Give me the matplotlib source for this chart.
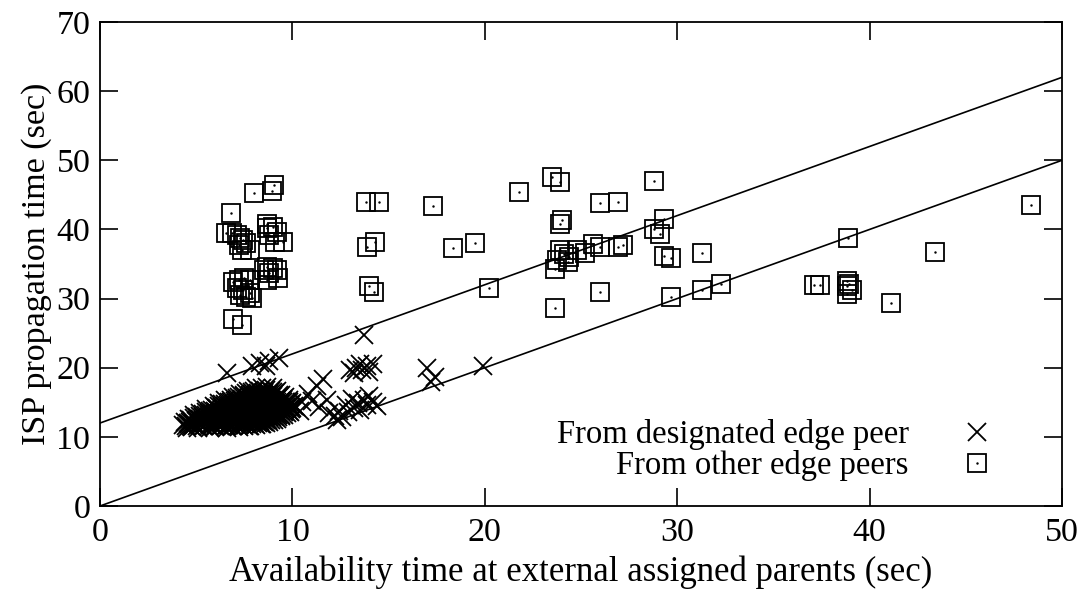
import matplotlib
matplotlib.use("Agg")
import matplotlib.pyplot as plt
from matplotlib.legend_handler import HandlerTuple

# crosses: designated edge peer -- the dense blob, row by row
blob_x = [
    4.5, 4.8, 5.1, 5.4, 5.7, 6.0, 6.3, 6.6, 6.9, 7.2, 7.5, 7.8, 8.1, 8.4,
    4.3, 4.6, 4.9, 5.2, 5.5, 5.8, 6.1, 6.4, 6.7, 7.0, 7.3, 7.6, 7.9, 8.2, 8.5, 8.8,
    4.4, 4.7, 5.0, 5.3, 5.6, 5.9, 6.2, 6.5, 6.8, 7.1, 7.4, 7.7, 8.0, 8.3, 8.6, 8.9, 9.2,
    4.6, 4.9, 5.2, 5.5, 5.8, 6.1, 6.4, 6.7, 7.0, 7.3, 7.6, 7.9, 8.2, 8.5, 8.8, 9.1, 9.4,
    4.9, 5.2, 5.5, 5.8, 6.1, 6.4, 6.7, 7.0, 7.3, 7.6, 7.9, 8.2, 8.5, 8.8, 9.1, 9.4, 9.7,
    5.2, 5.5, 5.8, 6.1, 6.4, 6.7, 7.0, 7.3, 7.6, 7.9, 8.2, 8.5, 8.8, 9.1, 9.4, 9.8,
    5.5, 5.8, 6.1, 6.4, 6.7, 7.0, 7.3, 7.6, 7.9, 8.2, 8.5, 8.8, 9.1, 9.4, 9.7, 10.0,
    5.9, 6.2, 6.5, 6.8, 7.1, 7.4, 7.7, 8.0, 8.3, 8.6, 8.9, 9.2, 9.5, 9.8, 10.1,
    6.2, 6.5, 6.8, 7.1, 7.4, 7.7, 8.0, 8.3, 8.6, 8.9, 9.2, 9.5, 9.8, 10.0,
    6.5, 6.8, 7.1, 7.4, 7.7, 8.0, 8.3, 8.6, 8.9, 9.2, 9.5, 9.8,
    6.9, 7.2, 7.5, 7.8, 8.1, 8.4, 8.7, 9.0, 9.3, 9.6,
    7.3, 7.6, 7.9, 8.2, 8.5, 8.8, 9.1, 9.4,
    7.7, 8.0, 8.3, 8.6, 8.9, 9.2,
    8.1, 8.4, 8.7, 9.0,
]
blob_y = [
    11.3, 11.4, 11.3, 11.5, 11.3, 11.4, 11.6, 11.3, 11.5, 11.4, 11.6, 11.5, 11.7, 11.8,
    11.7, 11.8, 11.7, 11.9, 11.8, 11.7, 11.9, 11.8, 11.7, 11.9, 11.8, 11.9, 11.8, 12.0, 12.1, 12.2,
    12.2, 12.1, 12.3, 12.2, 12.1, 12.3, 12.2, 12.1, 12.3, 12.2, 12.1, 12.3, 12.2, 12.3, 12.4, 12.5, 12.6,
    12.6, 12.7, 12.6, 12.5, 12.7, 12.6, 12.8, 12.6, 12.5, 12.7, 12.6, 12.8, 12.6, 12.7, 12.8, 12.9, 13.0,
    13.1, 13.0, 13.2, 13.1, 13.0, 13.2, 13.1, 13.0, 13.2, 13.1, 13.0, 13.2, 13.1, 13.2, 13.3, 13.2, 13.4,
    13.5, 13.6, 13.5, 13.4, 13.6, 13.5, 13.7, 13.5, 13.4, 13.6, 13.5, 13.7, 13.5, 13.6, 13.7, 13.8,
    14.0, 13.9, 14.1, 14.0, 13.9, 14.1, 14.0, 13.9, 14.1, 14.0, 13.9, 14.1, 14.0, 14.1, 14.2, 14.1,
    14.4, 14.5, 14.4, 14.3, 14.5, 14.4, 14.6, 14.4, 14.3, 14.5, 14.4, 14.6, 14.5, 14.6, 14.5,
    14.9, 14.8, 15.0, 14.9, 14.8, 15.0, 14.9, 14.8, 15.0, 14.9, 15.0, 15.1, 15.0, 14.9,
    15.3, 15.4, 15.3, 15.2, 15.4, 15.3, 15.5, 15.3, 15.4, 15.5, 15.4, 15.3,
    15.8, 15.7, 15.9, 15.8, 15.7, 15.9, 15.8, 15.9, 15.8, 15.7,
    16.2, 16.3, 16.2, 16.1, 16.3, 16.2, 16.3, 16.1,
    16.6, 16.7, 16.6, 16.8, 16.7, 16.6,
    17.1, 17.0, 17.2, 17.0,
]

# crosses: designated edge peer -- second, staggered pass through the blob
blob2_x = [
    4.45, 4.75, 5.05, 5.35, 5.65, 5.95, 6.25, 6.55, 6.85, 7.15, 7.45, 7.75, 8.05, 8.35, 8.65,
    4.55, 4.85, 5.15, 5.45, 5.75, 6.05, 6.35, 6.65, 6.95, 7.25, 7.55, 7.85, 8.15, 8.45, 8.75, 9.05,
    4.75, 5.05, 5.35, 5.65, 5.95, 6.25, 6.55, 6.85, 7.15, 7.45, 7.75, 8.05, 8.35, 8.65, 8.95, 9.25,
    5.05, 5.35, 5.65, 5.95, 6.25, 6.55, 6.85, 7.15, 7.45, 7.75, 8.05, 8.35, 8.65, 8.95, 9.25, 9.55,
    5.35, 5.65, 5.95, 6.25, 6.55, 6.85, 7.15, 7.45, 7.75, 8.05, 8.35, 8.65, 8.95, 9.25, 9.55, 9.85,
    5.7, 6.0, 6.3, 6.6, 6.9, 7.2, 7.5, 7.8, 8.1, 8.4, 8.7, 9.0, 9.3, 9.6, 9.9,
    6.05, 6.35, 6.65, 6.95, 7.25, 7.55, 7.85, 8.15, 8.45, 8.75, 9.05, 9.35, 9.65, 9.95,
    6.35, 6.65, 6.95, 7.25, 7.55, 7.85, 8.15, 8.45, 8.75, 9.05, 9.35, 9.65, 9.95,
    6.7, 7.0, 7.3, 7.6, 7.9, 8.2, 8.5, 8.8, 9.1, 9.4, 9.65,
    7.1, 7.4, 7.7, 8.0, 8.3, 8.6, 8.9, 9.2, 9.5,
    7.5, 7.8, 8.1, 8.4, 8.7, 9.0, 9.3,
    7.9, 8.2, 8.5, 8.8, 9.0,
]
blob2_y = [
    11.5, 11.6, 11.5, 11.6, 11.5, 11.6, 11.5, 11.6, 11.5, 11.6, 11.7, 11.6, 11.8, 11.9, 12.0,
    12.0, 11.9, 12.0, 12.1, 11.9, 12.0, 12.1, 11.9, 12.0, 12.1, 12.0, 12.1, 12.2, 12.3, 12.4, 12.4,
    12.4, 12.5, 12.4, 12.3, 12.5, 12.4, 12.5, 12.4, 12.3, 12.5, 12.4, 12.5, 12.6, 12.7, 12.8, 12.8,
    12.9, 12.8, 12.9, 13.0, 12.8, 12.9, 13.0, 12.8, 12.9, 13.0, 12.9, 13.0, 13.0, 13.1, 13.2, 13.2,
    13.3, 13.4, 13.3, 13.2, 13.4, 13.3, 13.4, 13.3, 13.2, 13.4, 13.3, 13.4, 13.4, 13.5, 13.6, 13.6,
    13.8, 13.7, 13.8, 13.9, 13.7, 13.8, 13.9, 13.7, 13.8, 13.9, 13.8, 13.9, 13.9, 14.0, 14.0,
    14.2, 14.3, 14.2, 14.1, 14.3, 14.2, 14.3, 14.2, 14.1, 14.3, 14.2, 14.3, 14.3, 14.3,
    14.7, 14.6, 14.7, 14.8, 14.6, 14.7, 14.8, 14.6, 14.7, 14.8, 14.7, 14.8, 14.7,
    15.1, 15.2, 15.1, 15.0, 15.2, 15.1, 15.2, 15.1, 15.2, 15.2, 15.1,
    15.6, 15.5, 15.6, 15.7, 15.5, 15.6, 15.7, 15.6, 15.5,
    16.0, 16.1, 16.0, 15.9, 16.1, 16.0, 16.0,
    16.5, 16.4, 16.5, 16.4, 16.5,
]

# crosses: designated edge peer -- the scattered ones
stray_x = [
    6.6, 7.9, 8.3, 8.6, 8.8, 9.3,
    10.8, 11.3, 11.6, 11.0, 11.4, 11.8, 10.5, 10.2, 10.4,
    11.9, 12.2, 12.4, 12.6, 12.9, 13.2, 13.4, 13.7, 13.9, 14.2, 14.4, 13.5, 12.8, 13.1, 14.0, 12.3,
    13.0, 13.3, 13.6, 13.9, 14.2, 13.5, 13.2, 14.0,
    13.7, 17.0, 17.4, 17.2, 19.9,
]
stray_y = [
    19.2, 20.3, 20.7, 20.2, 21.0, 21.4,
    16.2, 17.4, 18.3, 15.2, 14.3, 15.4, 15.0, 14.3, 13.8,
    13.4, 13.0, 13.8, 12.8, 13.6, 14.2, 14.9, 15.3, 14.6, 15.1, 14.5, 13.9, 14.6, 15.5, 15.9, 12.4,
    19.6, 20.0, 19.7, 20.2, 20.5, 20.6, 19.3, 19.4,
    24.8, 19.9, 18.6, 17.9, 20.3,
]

# squares: other edge peers
other_x = [
    8.0, 9.05, 8.94, 6.8,
    6.55, 6.86, 7.1, 7.3, 7.45, 7.2, 7.6, 7.8, 7.4,
    8.7, 9.0, 9.2, 8.8, 9.5, 9.1, 8.7,
    6.9, 7.2, 7.5, 7.8, 7.1, 7.45, 7.8, 7.3, 7.6, 7.9,
    8.7, 9.0, 8.8, 9.2, 8.5, 9.25, 8.7,
    6.9, 7.4,
    13.8, 14.5, 17.3, 13.9, 14.3, 18.35, 19.5, 14.0, 14.25, 20.2,
    21.8, 23.5, 23.9, 28.8, 26.0, 26.9, 24.0, 23.9, 29.3, 28.8, 29.1, 31.3,
    23.9, 24.1, 23.75, 23.65, 24.8, 25.2, 25.6, 26.0, 26.9, 27.2, 24.4, 24.3,
    29.3, 29.7, 26.0, 23.65, 29.7, 31.3, 32.3,
    48.4, 38.9, 43.4, 37.1, 37.4, 38.8, 38.95, 38.8, 39.1, 38.8, 41.1,
]
other_y = [
    45.3, 46.4, 45.6, 42.4,
    39.5, 39.5, 39.2, 38.8, 38.5, 37.7, 38.0, 37.0, 37.0,
    40.8, 40.4, 39.6, 39.2, 38.2, 38.2, 40.2,
    32.4, 32.7, 33.0, 32.7, 31.5, 31.2, 30.8, 30.5, 30.2, 30.1,
    34.6, 34.4, 33.7, 34.1, 34.1, 33.0, 32.7,
    27.1, 26.2,
    44.0, 44.0, 43.4, 37.5, 38.2, 37.3, 38.0, 31.8, 31.0, 31.6,
    45.4, 47.6, 46.9, 47.0, 43.8, 44.0, 41.3, 40.8, 41.5, 40.0, 39.4, 36.6,
    37.0, 36.4, 35.6, 34.3, 37.0, 36.6, 37.9, 37.4, 37.5, 37.8, 36.0, 35.3,
    36.2, 35.8, 31.0, 28.7, 30.2, 31.2, 32.1,
    43.6, 38.8, 36.7, 32.0, 32.0, 32.6, 32.1, 30.6, 31.2, 31.8, 29.3,
]

# reference lines y = x + 12 and y = x
line_x = [0, 50]
upper_line_y = [12, 62]
lower_line_y = [0, 50]

plt.rcParams["font.family"] = ["Liberation Serif", "DejaVu Serif"]
plt.rcParams["font.size"] = 24

fig = plt.figure(figsize=(10.84, 5.92), dpi=100)
ax = fig.add_axes([0.0923, 0.1453, 0.8874, 0.8175])

ax.plot(line_x, upper_line_y, color="black", lw=1.2)
ax.plot(line_x, lower_line_y, color="black", lw=1.2)

cross_x = blob_x + blob2_x + stray_x
cross_y = blob_y + blob2_y + stray_y
cross = ax.plot(cross_x, cross_y, ls="none", marker="x",
                ms=13, mew=1.3, color="black")[0]
sq = ax.plot(other_x, other_y, ls="none", marker="s", ms=12.5, mew=1.3,
             mfc="none", mec="black")[0]
dot = ax.plot(other_x, other_y, ls="none", marker=".", ms=1.5,
              color="black")[0]

ax.set_xlim(0, 50)
ax.set_ylim(0, 70)
ax.set_xticks(range(0, 51, 10))
ax.set_yticks(range(0, 71, 10))
ax.tick_params(direction="in", length=13, width=1.2, top=True, right=True,
               labelsize=24.5)
ax.tick_params(axis="x", pad=8)
ax.tick_params(axis="y", pad=7)
for s in ax.spines.values():
    s.set_linewidth(1.3)

ax.set_xlabel("Availability time at external assigned parents (sec)",
              fontsize=25, labelpad=6)
ax.set_ylabel("ISP propagation time (sec)", fontsize=24.5, labelpad=3)

ax.legend([cross, (sq, dot)], ["From designated edge peer", "From other edge peers"],
          handler_map={tuple: HandlerTuple(ndivide=1)},
          loc="lower right", bbox_to_anchor=(0.966, 0.018), frameon=False,
          markerfirst=False, handlelength=2.2, handletextpad=1.0,
          labelspacing=0.0, borderpad=0, fontsize=23.5)

fig.savefig("out.png", dpi=100)
